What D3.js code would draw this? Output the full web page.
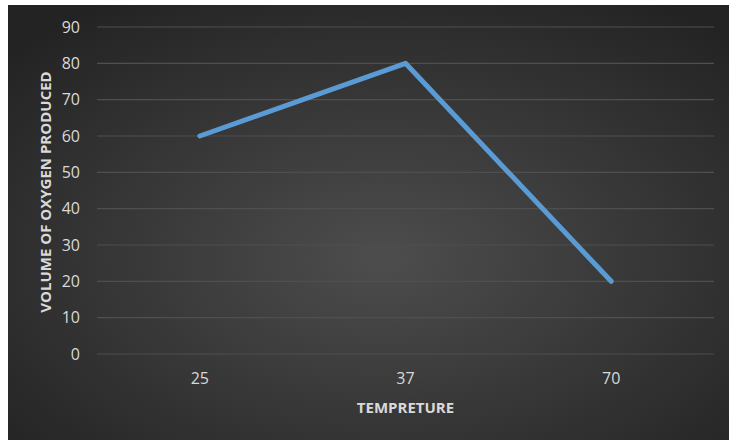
<!DOCTYPE html>
<html>
<head>
<meta charset="utf-8">
<script src="https://cdn.jsdelivr.net/npm/d3@7"></script>
<style>
  html, body { margin: 0; padding: 0; background: #fff; }
  svg { display: block; }
  text { font-family: "Open Sans", "Noto Sans", sans-serif; }
</style>
</head>
<body>
<svg id="chart" width="729" height="440"></svg>
<script>
// Temperature vs. oxygen produced
var temperatures = ['25', '37', '70'];
var oxygenVolume = [60, 80, 20];
var yTicks = [0, 10, 20, 30, 40, 50, 60, 70, 80, 90];

var svg = d3.select('#chart');
var W = 729, H = 440;
var margin = { top: 27, right: 15, bottom: 86, left: 97 };

// dark radial background
var defs = svg.append('defs');
var grad = defs.append('radialGradient')
    .attr('id', 'bg')
    .attr('cx', '52%').attr('cy', '58%').attr('r', '70%');
grad.append('stop').attr('offset', '0%').attr('stop-color', '#4d4d4d');
grad.append('stop').attr('offset', '100%').attr('stop-color', '#232323');

svg.append('rect')
    .attr('x', 8).attr('y', 5)
    .attr('width', W - 8).attr('height', H - 5)
    .attr('fill', 'url(#bg)');

var x = d3.scaleBand()
    .domain(temperatures)
    .range([margin.left, W - margin.right]);

var y = d3.scaleLinear()
    .domain([0, 90])
    .range([354, margin.top]);

// gridlines
svg.append('g')
    .selectAll('line')
    .data(yTicks)
    .enter().append('line')
    .attr('x1', margin.left)
    .attr('x2', W - margin.right)
    .attr('y1', d => y(d))
    .attr('y2', d => y(d))
    .attr('stroke', '#4f4f4f')
    .attr('stroke-width', 1.2);

// y axis labels
var yAxis = d3.axisLeft(y).tickValues(yTicks).tickSize(0).tickPadding(17);
var gy = svg.append('g')
    .attr('transform', 'translate(' + margin.left + ',0)')
    .call(yAxis);
gy.select('.domain').remove();
gy.selectAll('text')
    .attr('fill', '#d9d9d9')
    .style('font-size', '16px');

// x axis labels
var xAxis = d3.axisBottom(x).tickSize(0).tickPadding(19);
var gx = svg.append('g')
    .attr('transform', 'translate(0,' + y(0) + ')')
    .call(xAxis);
gx.select('.domain').remove();
gx.selectAll('text')
    .attr('fill', '#d9d9d9')
    .style('font-size', '16px');

// the line
var line = d3.line()
    .x((d, i) => x(temperatures[i]) + x.bandwidth() / 2)
    .y(d => y(d));

svg.append('path')
    .datum(oxygenVolume)
    .attr('d', line)
    .attr('fill', 'none')
    .attr('stroke', '#5b9bd5')
    .attr('stroke-width', 5)
    .attr('stroke-linejoin', 'round')
    .attr('stroke-linecap', 'round');

// axis titles
svg.append('text')
    .attr('x', (margin.left + W - margin.right) / 2)
    .attr('y', 413)
    .attr('text-anchor', 'middle')
    .attr('fill', '#d9d9d9')
    .style('font-size', '15px')
    .style('font-weight', 'bold')
    .text('TEMPRETURE');

svg.append('text')
    .attr('transform', 'translate(51,192) rotate(-90)')
    .attr('text-anchor', 'middle')
    .attr('fill', '#d9d9d9')
    .style('font-size', '15px')
    .style('font-weight', 'bold')
    .text('VOLUME OF OXYGEN PRODUCED');
</script>
</body>
</html>
